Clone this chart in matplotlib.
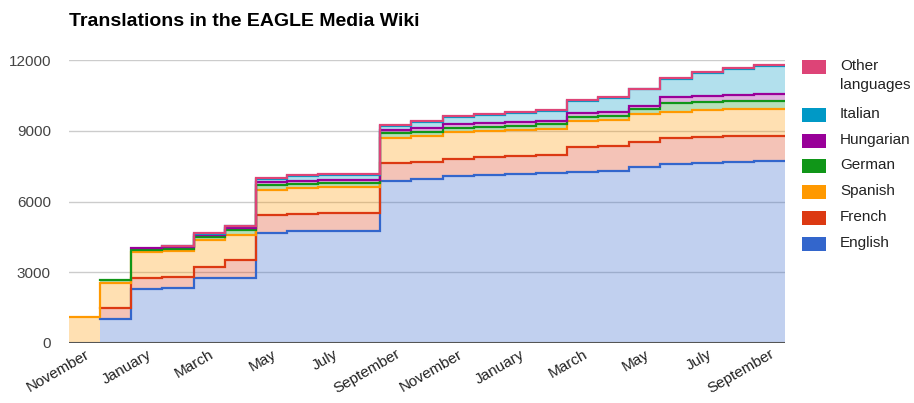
import matplotlib.pyplot as plt
import numpy as np
from matplotlib.patches import Rectangle

plt.rcParams["font.family"] = ["Liberation Sans", "DejaVu Sans"]

# monthly steps, Nov (year 1) .. Sep (year 3)
months = [
    "November", "December", "January", "February", "March", "April", "May",
    "June", "July", "August", "September", "October", "November", "December",
    "January", "February", "March", "April", "May", "June", "July", "August",
    "September",
]
english = [0, 1000, 2300, 2340, 2760, 2760, 4680, 4750, 4770, 4770, 6890, 6970,
           7080, 7120, 7160, 7190, 7260, 7290, 7470, 7570, 7640, 7680, 7700]
french = [0, 500, 460, 460, 470, 750, 750, 740, 740, 740, 730, 720,
          720, 750, 760, 780, 1060, 1070, 1060, 1110, 1100, 1110, 1090]
spanish = [1100, 1060, 1100, 1090, 1130, 1090, 1070, 1090, 1090, 1090, 1080, 1090,
           1140, 1130, 1110, 1100, 1090, 1090, 1170, 1130, 1140, 1120, 1150]
german = [0, 100, 100, 100, 120, 180, 200, 180, 190, 190, 190, 180,
          160, 150, 180, 200, 190, 190, 220, 370, 350, 350, 330]
hungarian = [0, 0, 80, 80, 90, 90, 140, 120, 120, 120, 140, 140,
             180, 160, 160, 140, 160, 160, 130, 260, 260, 260, 280]
italian = [0, 0, 0, 30, 50, 70, 130, 190, 220, 220, 170, 270,
           300, 350, 370, 410, 500, 580, 700, 740, 970, 1090, 1200]
other = [0, 0, 0, 30, 40, 40, 30, 40, 30, 30, 40, 40,
         40, 40, 40, 40, 40, 40, 40, 40, 40, 40, 40]

series_names = ["English", "French", "Spanish", "German", "Hungarian", "Italian", "Other\nlanguages"]
series_colors = ["#3366CC", "#DC3912", "#FF9900", "#109618", "#990099", "#0099C6", "#DD4477"]
yticks = [0, 3000, 6000, 9000, 12000]

data = np.array([english, french, spanish, german, hungarian, italian, other], dtype=float)
# repeat the last month so the final step spans its full width
data = np.hstack([data, data[:, -1:]])
tops = np.cumsum(data, axis=0)
bottoms = np.vstack([np.zeros(data.shape[1]), tops[:-1]])
x = np.arange(data.shape[1])

fig = plt.figure(figsize=(9.14, 4.03), dpi=100)
ax = fig.add_axes([69 / 914, 60 / 403, 716 / 914, 283 / 403])

for lo, hi, color in zip(bottoms, tops, series_colors):
    ax.fill_between(x, lo, hi, step="post", color=color, alpha=0.3, linewidth=0)
for vals, hi, color in zip(data, tops, series_colors):
    # a language has no line before its first translations
    start = int(np.argmax(vals > 0))
    ax.step(x[start:], hi[start:], where="post", color=color, linewidth=1.6,
            solid_joinstyle="miter")

ax.set_xlim(0, len(months))
ax.set_ylim(0, 12000)
ax.set_yticks(yticks)
ax.set_yticklabels([str(v) for v in yticks], fontsize=11, color="#444444")
ax.yaxis.grid(True, color="#CCCCCC", linewidth=1)
ax.set_axisbelow(True)
ax.axhline(0, color="#555555", linewidth=1.5, zorder=5)

tick_idx = np.arange(0, len(months), 2)
ax.set_xticks(tick_idx + 0.5)
ax.set_xticklabels([months[i] for i in tick_idx], rotation=30, ha="right",
                   rotation_mode="anchor", fontsize=11, color="#222222")
ax.tick_params(axis="both", length=0)
ax.tick_params(axis="y", pad=13)
ax.tick_params(axis="x", pad=3)
for side in ax.spines.values():
    side.set_visible(False)

fig.text(69 / 914, 1 - 21 / 403, "Translations in the EAGLE Media Wiki",
         fontsize=14, fontweight="bold", va="center", ha="left", color="#000000")

# legend, top entry first
legend_y = [67, 115, 141, 166, 192, 218, 244]
for name, color, yy in zip(series_names[::-1], series_colors[::-1], legend_y):
    fig.add_artist(Rectangle((802 / 914, 1 - (yy + 7) / 403), 24 / 914, 14 / 403,
                             transform=fig.transFigure, facecolor=color, edgecolor="none"))
    fig.text(840 / 914, 1 - (yy - 8) / 403, name, fontsize=11, color="#222222",
             va="top", ha="left", linespacing=1.45)

fig.savefig("out.png", dpi=100)
